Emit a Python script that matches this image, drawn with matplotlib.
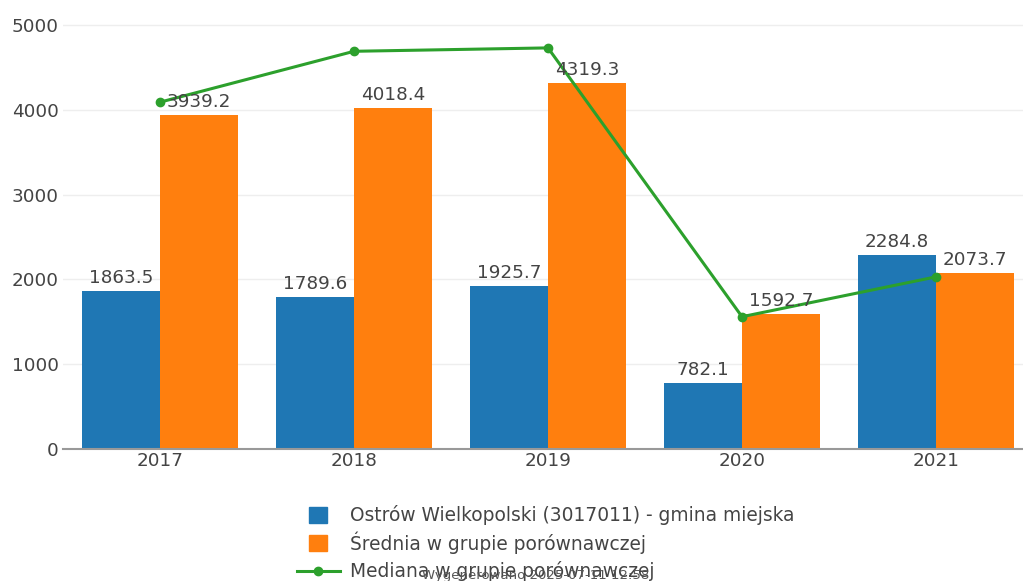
import matplotlib
matplotlib.use("Agg")
import matplotlib.pyplot as plt
from matplotlib.patches import Rectangle
from matplotlib.lines import Line2D
import numpy as np

years = ["2017", "2018", "2019", "2020", "2021"]
gmina = [1863.5, 1789.6, 1925.7, 782.1, 2284.8]
srednia = [3939.2, 4018.4, 4319.3, 1592.7, 2073.7]
mediana = [4090, 4690, 4730, 1560, 2030]
yticks = [0, 1000, 2000, 3000, 4000, 5000]

label_gmina = "Ostrów Wielkopolski (3017011) - gmina miejska"
label_srednia = "Średnia w grupie porównawczej"
label_mediana = "Mediana w grupie porównawczej"
footnote = "Wygenerowano 2025-07-11 12:58"

C_BLUE = "#1f77b4"
C_ORANGE = "#ff7f0e"
C_GREEN = "#2ca02c"
C_TEXT = "#444444"

plt.rcParams['font.family'] = ['DejaVu Sans']

W, H = 1023, 581
fig = plt.figure(figsize=(W / 100, H / 100), dpi=100)

# axes geometry in pixels
x0, x1 = 63, 1033
y_zero, y_5000 = 449, 25
ymax = 5100
px_per_unit = (y_zero - y_5000) / 5000
y_top = y_zero - ymax * px_per_unit
ax = fig.add_axes([x0 / W, (H - y_zero) / H, (x1 - x0) / W, (y_zero - y_top) / H])

x = np.arange(len(years))
bw = 0.4
ax.bar(x - bw / 2, gmina, width=bw, color=C_BLUE, zorder=2)
ax.bar(x + bw / 2, srednia, width=bw, color=C_ORANGE, zorder=2)
ax.plot(x, mediana, color=C_GREEN, lw=2.2, marker="o", ms=6, zorder=3)

FS = 13.2
for xi, v in zip(x - bw / 2, gmina):
    ax.annotate(f"{v:.1f}", (xi, v), xytext=(0, 3), textcoords="offset points",
                ha="center", va="bottom", fontsize=FS, color=C_TEXT, zorder=4)
for xi, v in zip(x + bw / 2, srednia):
    ax.annotate(f"{v:.1f}", (xi, v), xytext=(0, 3), textcoords="offset points",
                ha="center", va="bottom", fontsize=FS, color=C_TEXT, zorder=4)

ax.set_xlim(-0.5, len(years) - 0.5)
ax.set_ylim(0, ymax)
ax.set_xticks(x)
ax.set_xticklabels(years)
ax.set_yticks(yticks)
ax.set_yticklabels([str(t) for t in yticks])
ax.tick_params(axis="both", length=0, labelsize=FS, labelcolor=C_TEXT)
ax.tick_params(axis="y", pad=3)
ax.tick_params(axis="x", pad=2)
ax.yaxis.grid(True, color="#eeeeee", lw=1, zorder=0)
ax.set_axisbelow(True)
for s in ["top", "right", "left"]:
    ax.spines[s].set_visible(False)
ax.spines["bottom"].set_color("#999999")
ax.spines["bottom"].set_linewidth(1.5)
ax.spines["bottom"].set_zorder(5)

# legend drawn in figure pixel coordinates
def fx(px):
    return px / W

def fy(py):
    return (H - py) / H

rows = [515, 543, 571]
fig.patches.append(Rectangle((fx(309), fy(rows[0] + 8)), 18 / W, 16 / H,
                             transform=fig.transFigure, color=C_BLUE))
fig.patches.append(Rectangle((fx(309), fy(rows[1] + 8)), 18 / W, 16 / H,
                             transform=fig.transFigure, color=C_ORANGE))
fig.lines.append(Line2D([fx(297), fx(340)], [fy(rows[2]), fy(rows[2])],
                        transform=fig.transFigure, color=C_GREEN, lw=2.2,
                        marker=None))
fig.lines.append(Line2D([fx(318)], [fy(rows[2])], transform=fig.transFigure,
                        color=C_GREEN, marker="o", ms=6, lw=0))
for r, lab in zip(rows, [label_gmina, label_srednia, label_mediana]):
    fig.text(fx(350), fy(r), lab, fontsize=13.4, color=C_TEXT, va="center", ha="left")

fig.text(fx(536), fy(576), footnote, fontsize=9.5, color="#555555",
         va="center", ha="center")

fig.savefig("out.png", dpi=100, facecolor="white")
